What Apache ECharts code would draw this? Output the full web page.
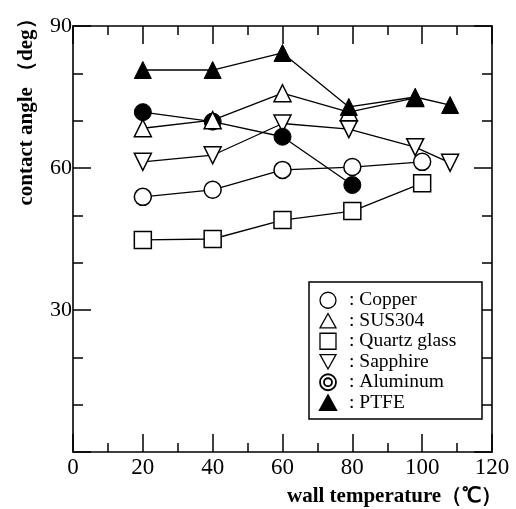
<!DOCTYPE html>
<html><head><meta charset="utf-8">
<script src="https://cdn.jsdelivr.net/npm/echarts@6/dist/echarts.min.js"></script>
<style>html,body{margin:0;padding:0;background:#fff}#c{width:516px;height:509px}</style>
</head><body><div id="c"></div>
<script>
var copperX = [20, 40, 60, 80, 100];
var copperY = [53.9, 55.4, 59.6, 60.2, 61.3];
var susX = [20, 40, 60, 79, 98];
var susY = [68.4, 70.1, 75.8, 71.8, 74.8];
var quartzX = [20, 40, 60, 80, 100];
var quartzY = [44.8, 45.0, 49.0, 50.9, 56.8];
var sapphireX = [20, 40, 60, 79, 98, 108];
var sapphireY = [61.3, 62.7, 69.4, 68.2, 64.4, 61.1];
var aluminumX = [20, 40, 60, 80];
var aluminumY = [71.8, 69.8, 66.6, 56.4];
var ptfeX = [20, 40, 60, 79, 98, 108];
var ptfeY = [80.7, 80.7, 84.3, 72.9, 75.0, 73.3];
var xTicks = [0, 20, 40, 60, 80, 100, 120];
var yTicks = [0, 30, 60, 90];
var names = ['Copper', 'SUS304', 'Quartz glass', 'Sapphire', 'Aluminum', 'PTFE'];

function pairs(xs, ys) { return xs.map(function (x, i) { return [x, ys[i]]; }); }
var serif = '"Liberation Serif","DejaVu Serif",serif';
var doubleCircle = 'path://M12,0A12,12 0 1,1 11.99,0Z M12,6A6,6 0 1,1 11.99,6Z';
var downTri = 'path://M0,0L20,0L10,18Z';
var upTri = 'path://M10,0L20,18L0,18Z';

function mkSeries(name, xs, ys, symbol, filled, rotate, z) {
  return {
    name: name, type: 'line', data: pairs(xs, ys),
    symbol: symbol, symbolSize: 17, symbolRotate: rotate || 0,
    lineStyle: { color: '#000', width: 1.3 },
    itemStyle: { color: filled ? '#000' : '#fff', borderColor: '#000', borderWidth: filled ? 1 : 1.5, opacity: 1 },
    emphasis: { disabled: true }, animation: false, z: z
  };
}

function xAx(pos) {
  return {
    type: 'value', position: pos, min: 0, max: 120, interval: 20,
    axisLine: { show: true, onZero: false, lineStyle: { color: '#000', width: 1.6 } },
    axisTick: { show: true, inside: true, length: 18, lineStyle: { color: '#000', width: 1.5 } },
    minorTick: { show: true, splitNumber: 2, length: 9, lineStyle: { color: '#000', width: 1.5 } },
    splitLine: { show: false },
    axisLabel: { show: pos === 'bottom', color: '#000', fontFamily: serif, fontSize: 23, margin: 4,
      formatter: function (v) { return xTicks.indexOf(v) >= 0 ? String(v) : ''; } }
  };
}
function yAx(pos) {
  return {
    type: 'value', position: pos, min: 0, max: 90, interval: 30,
    axisLine: { show: true, onZero: false, lineStyle: { color: '#000', width: 1.6 } },
    axisTick: { show: true, inside: true, length: 18, lineStyle: { color: '#000', width: 1.5 } },
    minorTick: { show: true, splitNumber: 3, length: 10, lineStyle: { color: '#000', width: 1.5 } },
    splitLine: { show: false },
    axisLabel: { show: pos === 'left', color: '#000', fontFamily: serif, fontSize: 22, margin: 1,
      formatter: function (v) { return (v !== 0 && yTicks.indexOf(v) >= 0) ? String(v) : ''; } }
  };
}

var chart = echarts.init(document.getElementById('c'), null, { renderer: 'canvas' });
chart.setOption({
  backgroundColor: '#fff',
  animation: false,
  grid: { left: 73, right: 24, top: 26, bottom: 57, containLabel: false },
  xAxis: [xAx('bottom'), xAx('top')],
  yAxis: [yAx('left'), yAx('right')],
  legend: {
    orient: 'vertical', left: 319, top: 290, padding: 0,
    itemWidth: 16, itemHeight: 16, itemGap: 0, symbolKeepAspect: true,
    selectedMode: false,
    textStyle: { color: '#000', fontFamily: serif, fontSize: 19.5, lineHeight: 20.5, padding: [0, 0, 0, 8] },
    formatter: function (n) { return ': ' + n; },
    data: [
      { name: names[0], icon: 'circle', itemStyle: { borderWidth: 1.3 } },
      { name: names[1], icon: upTri, itemStyle: { borderWidth: 1.3 } },
      { name: names[2], icon: 'rect', itemStyle: { borderWidth: 1.3 } },
      { name: names[3], icon: downTri, itemStyle: { borderWidth: 1.3 } },
      { name: names[4], icon: doubleCircle, itemStyle: { color: '#fff', borderColor: '#000', borderWidth: 1.8 } },
      { name: names[5], icon: upTri }
    ]
  },
  graphic: [
    { type: 'rect', shape: { x: 309, y: 282, width: 173, height: 137 }, style: { fill: '#fff', stroke: '#000', lineWidth: 1.5 }, z: 1 },
    { type: 'text', x: 27, y: 107, rotation: Math.PI / 2,
      style: { text: 'contact angle （deg）', fill: '#000', font: 'bold 21px "Liberation Serif", serif', textAlign: 'center', textVerticalAlign: 'middle' } },
    { type: 'text', x: 287, y: 497,
      style: { text: 'wall temperature（℃）', fill: '#000', font: 'bold 21px "Liberation Serif", serif', textAlign: 'left', textVerticalAlign: 'middle' } }
  ],
  series: [
    mkSeries(names[2], quartzX, quartzY, 'rect', false, 0, 2),
    mkSeries(names[0], copperX, copperY, 'circle', false, 0, 2),
    mkSeries(names[3], sapphireX, sapphireY, 'triangle', false, 180, 2),
    mkSeries(names[4], aluminumX, aluminumY, 'circle', true, 0, 3),
    mkSeries(names[1], susX, susY, 'triangle', false, 0, 4),
    mkSeries(names[5], ptfeX, ptfeY, 'triangle', true, 0, 5)
  ]
});
</script></body></html>
